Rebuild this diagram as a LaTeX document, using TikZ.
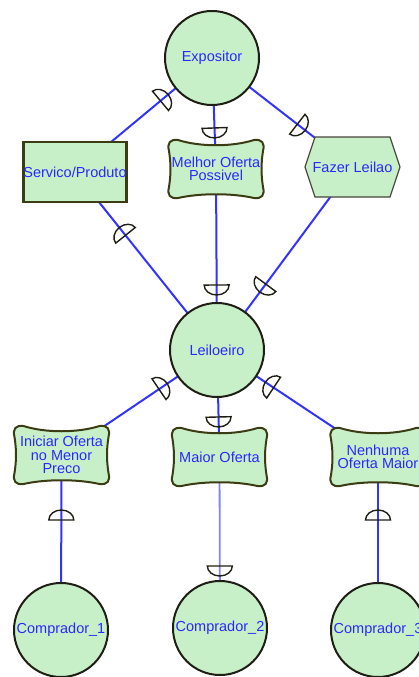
\documentclass[tikz,border=0pt]{standalone}
\usepackage{fontspec}
\setmainfont{Liberation Sans}
\usetikzlibrary{decorations.markings}

\definecolor{nodefill}{RGB}{200,240,200}
\definecolor{linkblue}{RGB}{51,51,255}
\definecolor{linklight}{RGB}{130,130,255}
\definecolor{txtblue}{RGB}{40,40,255}
\definecolor{rimdark}{RGB}{30,30,20}
\definecolor{rimolive}{RGB}{60,60,20}
\definecolor{rimgray}{RGB}{70,70,60}

\pgfdeclarelayer{links}
\pgfdeclarelayer{shapes}
\pgfsetlayers{links,shapes,main}

\tikzset{
  lbl/.style={text=txtblue, font=\fontsize{14.5}{13.5}\selectfont, align=center, inner sep=0pt},
  actor/.style={lbl, circle, draw=rimdark, line width=2pt, fill=nodefill, minimum size=94pt},
  resource/.style={lbl, rectangle, draw=rimolive, line width=2.4pt, fill=nodefill,
                   minimum width=96pt, minimum height=60pt},
  slot/.style={lbl, rectangle, minimum width=96pt, minimum height=56pt},
  link/.style={draw=linkblue, line width=2pt},
  lightlink/.style={draw=linklight, line width=1.8pt},
  dmark/.style={draw=rimdark, line width=1.4pt, fill=none},
  % dependency mark, bulging toward the end of the connector
  dfw/.style={postaction={decorate, decoration={markings, mark=at position #1 with
      {\draw[dmark] (0pt,-12.5pt) arc[start angle=-90, end angle=90, x radius=10pt, y radius=12.5pt] -- cycle;}}}},
  % dependency mark, bulging toward the start of the connector
  dbw/.style={postaction={decorate, decoration={markings, mark=at position #1 with
      {\draw[dmark] (0pt,12.5pt) arc[start angle=90, end angle=270, x radius=10pt, y radius=12.5pt] -- cycle;}}}},
  goalrim/.style={draw=rimolive, line width=2pt, fill=nodefill},
  taskrim/.style={draw=rimgray, line width=1.2pt, fill=nodefill}
}

% wavy goal outline around a named node
\newcommand{\goaloutline}[1]{%
  \filldraw[goalrim, x=1pt, y=1pt, shift={(#1.center)}]
    (-38,29) .. controls (-16,22) and (16,22) .. (38,29)
    .. controls (46,30) and (49,26) .. (47,18)
    .. controls (45,5) and (45,-5) .. (47,-18)
    .. controls (49,-26) and (46,-30) .. (38,-29)
    .. controls (16,-24) and (-16,-24) .. (-38,-29)
    .. controls (-46,-30) and (-49,-26) .. (-47,-18)
    .. controls (-45,-5) and (-45,5) .. (-47,18)
    .. controls (-49,26) and (-46,30) .. (-38,29) -- cycle;}

% hexagonal task outline around a named node
\newcommand{\taskoutline}[1]{%
  \filldraw[taskrim, x=1pt, y=1pt, shift={(#1.center)}]
    (-47.5,0) -- (-37.5,30) -- (37.5,30) -- (47.5,0) -- (37.5,-30) -- (-37.5,-30) -- cycle;}

\begin{document}
\begin{tikzpicture}[x=1pt, y=-1pt]
  \useasboundingbox (0,0) rectangle (419,677);

  % actors
  \node[actor] (expo) at (212,58) {Expositor};
  \node[actor] (leil) at (217,350) {Leiloeiro};
  \node[actor] (c1) at (61,630) {Comprador\_1};
  \node[actor] (c2) at (220,628) {Comprador\_2};
  \node[actor] (c3) at (378,630) {Comprador\_3};

  % dependums
  \node[resource] (serv) at (75,172) {Servico/Produto};
  \node[slot] (melh) at (216,169) {Melhor Oferta\\Possivel};
  \node[slot] (fazer) at (352.5,167) {Fazer Leilao};
  \node[slot] (inic) at (61.5,455) {Iniciar Oferta\\no Menor\\Preco};
  \node[slot] (maior) at (219.5,457) {Maior Oferta};
  \node[slot] (nenh) at (378,457) {Nenhuma\\Oferta Maior};

  \begin{pgfonlayer}{shapes}
    \goaloutline{melh}
    \goaloutline{inic}
    \goaloutline{maior}
    \goaloutline{nenh}
    \taskoutline{fazer}
  \end{pgfonlayer}

  \begin{pgfonlayer}{links}
    \draw[link, dbw=67pt]  (expo.center) -- (serv.center);
    \draw[link, dbw=81pt]  (serv.center) -- (leil.center);
    \draw[link, dfw=70pt]  (expo.center) -- (melh.center);
    \draw[link, dbw=65pt]  (leil.center) -- (melh.center);
    \draw[link, dfw=108pt] (expo.center) -- (fazer.center);
    \draw[link, dbw=82pt]  (leil.center) -- (fazer.center);
    \draw[link, dbw=70pt]  (leil.center) -- (inic.center);
    \draw[link, dfw=67pt]  (leil.center) -- (maior.center);
    \draw[link, dbw=68pt]  (leil.center) -- (nenh.center);
    \draw[link, dbw=65pt]  (inic.center) -- (c1.center);
    \draw[lightlink, dbw=62pt] (c2.center) -- (maior.center);
    \draw[link, dbw=63pt]  (nenh.center) -- (c3.center);
  \end{pgfonlayer}
\end{tikzpicture}
\end{document}
